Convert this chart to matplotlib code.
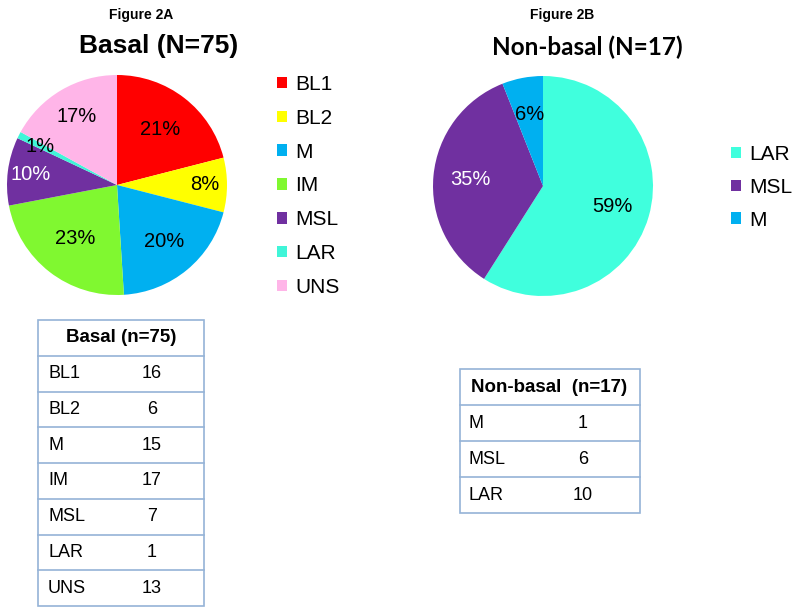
import matplotlib.pyplot as plt
from matplotlib.patches import Rectangle

plt.rcParams['font.family'] = ['Liberation Sans', 'DejaVu Sans']

# Data
basal_labels = ['BL1', 'BL2', 'M', 'IM', 'MSL', 'LAR', 'UNS']
basal_pct = [21, 8, 20, 23, 10, 1, 17]
basal_counts = [16, 6, 15, 17, 7, 1, 13]
basal_colors = ['#FF0000', '#FFFF00', '#00B0F0', '#80F830', '#7030A0', '#40F5D8', '#FFB5E8']

nonbasal_labels = ['LAR', 'MSL', 'M']
nonbasal_pct = [59, 35, 6]
nonbasal_colors = ['#40FFDD', '#7030A0', '#00B0F0']

nb_table_labels = ['M', 'MSL', 'LAR']
nb_table_counts = [1, 6, 10]

W, H = 800, 614
fig = plt.figure(figsize=(8, 6.14), dpi=100)


def px_axes(x0, y0, x1, y1):
    # axes from pixel box (top-left origin)
    return fig.add_axes([x0 / W, 1 - y1 / H, (x1 - x0) / W, (y1 - y0) / H])


def draw_pie(ax, vals, colors, pctdist, white_idx, label_r=None):
    wedges, _, autotexts = ax.pie(vals, colors=colors, startangle=90, counterclock=False,
                                  autopct=lambda p: '%d%%' % round(p), pctdistance=pctdist,
                                  wedgeprops=dict(linewidth=0),
                                  textprops=dict(fontsize=14.5, color='black'))
    for i, t in enumerate(autotexts):
        if i in white_idx:
            t.set_color('white')
        if label_r is not None:
            x, y = t.get_position()
            r = (x ** 2 + y ** 2) ** 0.5
            t.set_position((x / r * label_r[i], y / r * label_r[i]))
    ax.set_xlim(-1, 1)
    ax.set_ylim(-1, 1)
    ax.set_aspect('equal')
    ax.axis('off')
    return wedges


# pies
ax1 = px_axes(7, 75, 227, 295)
w1 = draw_pie(ax1, basal_pct, basal_colors, 0.68, [4],
              label_r=[0.64, 0.8, 0.67, 0.62, 0.79, 0.78, 0.72])
ax2 = px_axes(433, 76, 653, 296)
w2 = draw_pie(ax2, nonbasal_pct, nonbasal_colors, 0.66, [1])

# overlay in pixel coordinates
ov = fig.add_axes([0, 0, 1, 1])
ov.set_xlim(0, W)
ov.set_ylim(H, 0)
ov.axis('off')

ov.text(141, 15, 'Figure 2A', ha='center', va='center', fontsize=10, fontweight='bold')
ov.text(159, 46, 'Basal (N=75)', ha='center', va='center', fontsize=19, fontweight='bold')
ov.text(562, 15, 'Figure 2B', ha='center', va='center', fontsize=10, fontweight='bold')
ov.text(587, 47, 'Non-basal (N=17)', ha='center', va='center', fontsize=17.5, fontweight='bold',
        family=['Lato', 'DejaVu Sans'])

# legends
fig.legend(w1, basal_labels, loc='upper left', bbox_to_anchor=(277 / W, 1 - 75 / H),
           frameon=False, fontsize=15, handlelength=0.48, handleheight=0.48,
           handletextpad=0.38, labelspacing=0.71, borderpad=0, borderaxespad=0)
fig.legend(w2, nonbasal_labels, loc='upper left', bbox_to_anchor=(731 / W, 1 - 145 / H),
           frameon=False, fontsize=15, handlelength=0.48, handleheight=0.48,
           handletextpad=0.38, labelspacing=0.66, borderpad=0, borderaxespad=0)

# tables
border = '#95B3D7'


def draw_table(x0, x1, y0, row_h, header, labels, counts, lab_x, val_x, head_x):
    n = len(labels) + 1
    ov.add_patch(Rectangle((x0, y0), x1 - x0, row_h * n, fill=False, edgecolor=border, lw=1.2))
    for i in range(1, n):
        ov.plot([x0, x1], [y0 + i * row_h] * 2, color=border, lw=1.2)
    ov.text(head_x, y0 + row_h / 2, header, ha='center', va='center', fontsize=13.5, fontweight='bold')
    for i, (lab, c) in enumerate(zip(labels, counts)):
        yc = y0 + (i + 1.5) * row_h
        ov.text(lab_x, yc, lab, ha='left', va='center', fontsize=13)
        ov.text(val_x, yc, str(c), ha='center', va='center', fontsize=13)


draw_table(38, 204, 320, 35.75, 'Basal (n=75)', basal_labels, basal_counts, 48, 152, 121)
draw_table(460, 640, 369, 36, 'Non-basal  (n=17)', nb_table_labels, nb_table_counts, 469, 583, 549)

fig.savefig('out.png', dpi=100)
